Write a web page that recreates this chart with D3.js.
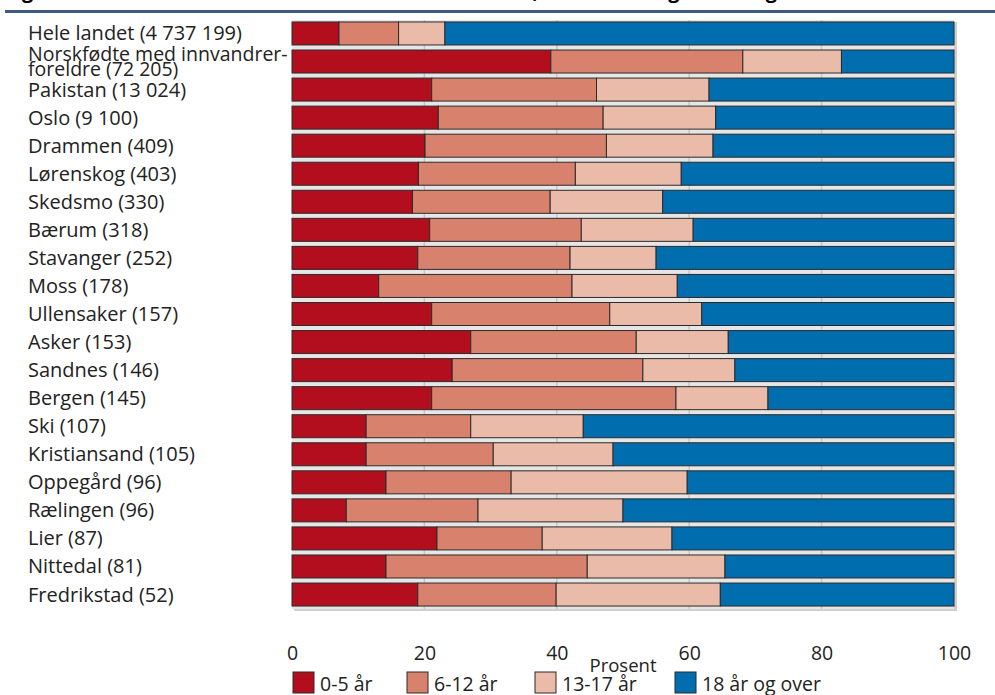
<!DOCTYPE html>
<html lang="no">
<head>
<meta charset="UTF-8">
<script src="https://d3js.org/d3.v7.min.js"></script>
<style>
  body { margin: 0; background: #fff; }
  svg { display: block; }
  text { font-family: "Open Sans", sans-serif; fill: #222; }
</style>
</head>
<body>
<svg width="995" height="695"></svg>
<script>
// categories (top to bottom)
let categories = [
  "Hele landet (4 737 199)",
  "Norskfødte med innvandrer-\nforeldre (72 205)",
  "Pakistan (13 024)",
  "Oslo (9 100)",
  "Drammen (409)",
  "Lørenskog (403)",
  "Skedsmo (330)",
  "Bærum (318)",
  "Stavanger (252)",
  "Moss (178)",
  "Ullensaker (157)",
  "Asker (153)",
  "Sandnes (146)",
  "Bergen (145)",
  "Ski (107)",
  "Kristiansand (105)",
  "Oppegård (96)",
  "Rælingen (96)",
  "Lier (87)",
  "Nittedal (81)",
  "Fredrikstad (52)"
];

// shares in percent, per age group
let age0to5   = [7.1, 39.1, 21.1, 22.1, 20.1, 19.1, 18.2, 20.8, 19.0, 13.1, 21.1, 27.0, 24.2, 21.1, 11.2, 11.2, 14.2, 8.2, 21.9, 14.2, 19.0];
let age6to12  = [9.0, 29.0, 24.9, 24.9, 27.4, 23.7, 20.8, 22.9, 23.0, 29.2, 26.9, 25.0, 28.8, 36.9, 15.8, 19.2, 18.9, 19.9, 15.9, 30.4, 20.9];
let age13to17 = [7.0, 14.9, 17.0, 17.0, 16.1, 16.0, 17.0, 16.9, 13.0, 15.9, 13.9, 13.9, 13.9, 13.9, 17.0, 18.1, 26.6, 21.9, 19.6, 20.8, 24.8];
let age18plus = [76.9, 17.0, 37.0, 36.0, 36.4, 41.2, 44.0, 39.4, 45.0, 41.8, 38.1, 34.1, 33.1, 28.1, 56.0, 51.5, 40.3, 50.0, 42.6, 34.6, 35.3];

let seriesNames = ["0-5 år", "6-12 år", "13-17 år", "18 år og over"];
let xTicks = [0, 20, 40, 60, 80, 100];

let colors = ["#b30e1e", "#d8826e", "#ebbbaa", "#006eae"];
let fs = "19.5px";

let svg = d3.select("svg");

// title (cut off at the top of the picture)
svg.append("text")
    .attr("x", 5)
    .attr("y", -2)
    .style("font-weight", "bold")
    .style("font-size", "20px")
    .style("fill", "#000")
    .text("Figur 4.2. Norskfødte med innvandrerforeldre 0-17 år, etter alder og landbakgrunn/kommune. Prosent");

svg.append("rect")
    .attr("x", 5).attr("y", 10)
    .attr("width", 990).attr("height", 3)
    .attr("fill", "#3d5a80");

let x = d3.scaleLinear().domain([0, 100]).range([292, 954]);
let y = d3.scaleBand().domain(categories).range([20, 608])
    .paddingInner(0.18).paddingOuter(0.07);

// plot background with a soft shadow
svg.append("rect")
    .attr("x", x(0) + 2).attr("y", 22)
    .attr("width", x(100) - x(0) + 1).attr("height", 589)
    .attr("fill", "#cfcfcf");
svg.append("rect")
    .attr("x", x(0)).attr("y", 20)
    .attr("width", x(100) - x(0)).attr("height", 589)
    .attr("fill", "#e6e6e6");

// gridlines
svg.append("g")
  .selectAll("line")
  .data(xTicks.slice(1, -1))
  .join("line")
    .attr("x1", d => x(d)).attr("x2", d => x(d))
    .attr("y1", 20).attr("y2", 609)
    .attr("stroke", "#c6c6c6")
    .attr("stroke-width", 1.5);

// stacked data
let rows = categories.map((c, i) => ({
  cat: c,
  s0: age0to5[i], s1: age6to12[i], s2: age13to17[i], s3: age18plus[i]
}));
let stack = d3.stack().keys(["s0", "s1", "s2", "s3"]);
let layers = stack(rows);

svg.append("g")
  .selectAll("g")
  .data(layers)
  .join("g")
    .attr("fill", (d, i) => colors[i])
  .selectAll("rect")
  .data(d => d)
  .join("rect")
    .attr("x", d => x(d[0]))
    .attr("y", d => y(d.data.cat))
    .attr("width", d => x(Math.min(100, d[1])) - x(d[0]))
    .attr("height", y.bandwidth())
    .attr("stroke", "#2b2b2b")
    .attr("stroke-width", 1);

// category labels
let labels = svg.append("g")
  .selectAll("text")
  .data(categories)
  .join("text")
    .attr("x", 28)
    .style("font-size", "20px");

labels.each(function(d) {
  let lines = d.split("\n");
  let cy = y(d) + y.bandwidth() / 2;
  let lh = 14.5;
  let t = d3.select(this);
  if (lines.length > 1) t.style("font-size", "19.5px");
  lines.forEach((ln, k) => {
    t.append("tspan")
      .attr("x", 28)
      .attr("y", cy + (k - (lines.length - 1) / 2) * lh)
      .attr("dy", "0.35em")
      .text(ln);
  });
});

// x axis
let xAxis = d3.axisBottom(x).tickValues(xTicks).tickSize(0).tickPadding(37);
let ax = svg.append("g")
    .attr("transform", "translate(0,609)")
    .call(xAxis);
ax.select(".domain").remove();
ax.selectAll("text")
    .style("font-family", "\"Open Sans\", sans-serif")
    .style("font-size", fs)
    .attr("fill", "#222");

svg.append("text")
    .attr("x", x(50))
    .attr("y", 672)
    .attr("text-anchor", "middle")
    .style("font-size", "18.5px")
    .text("Prosent");

// legend
let legendX = [293, 407, 535, 675];
let legend = svg.append("g")
  .selectAll("g")
  .data(seriesNames)
  .join("g")
    .attr("transform", (d, i) => "translate(" + legendX[i] + ",672)");
legend.append("rect")
    .attr("width", 21).attr("height", 21)
    .attr("fill", (d, i) => colors[i])
    .attr("stroke", "#2b2b2b");
legend.append("text")
    .attr("x", 27)
    .attr("y", 12)
    .attr("dy", "0.35em")
    .style("font-size", fs)
    .text(d => d);
</script>
</body>
</html>
